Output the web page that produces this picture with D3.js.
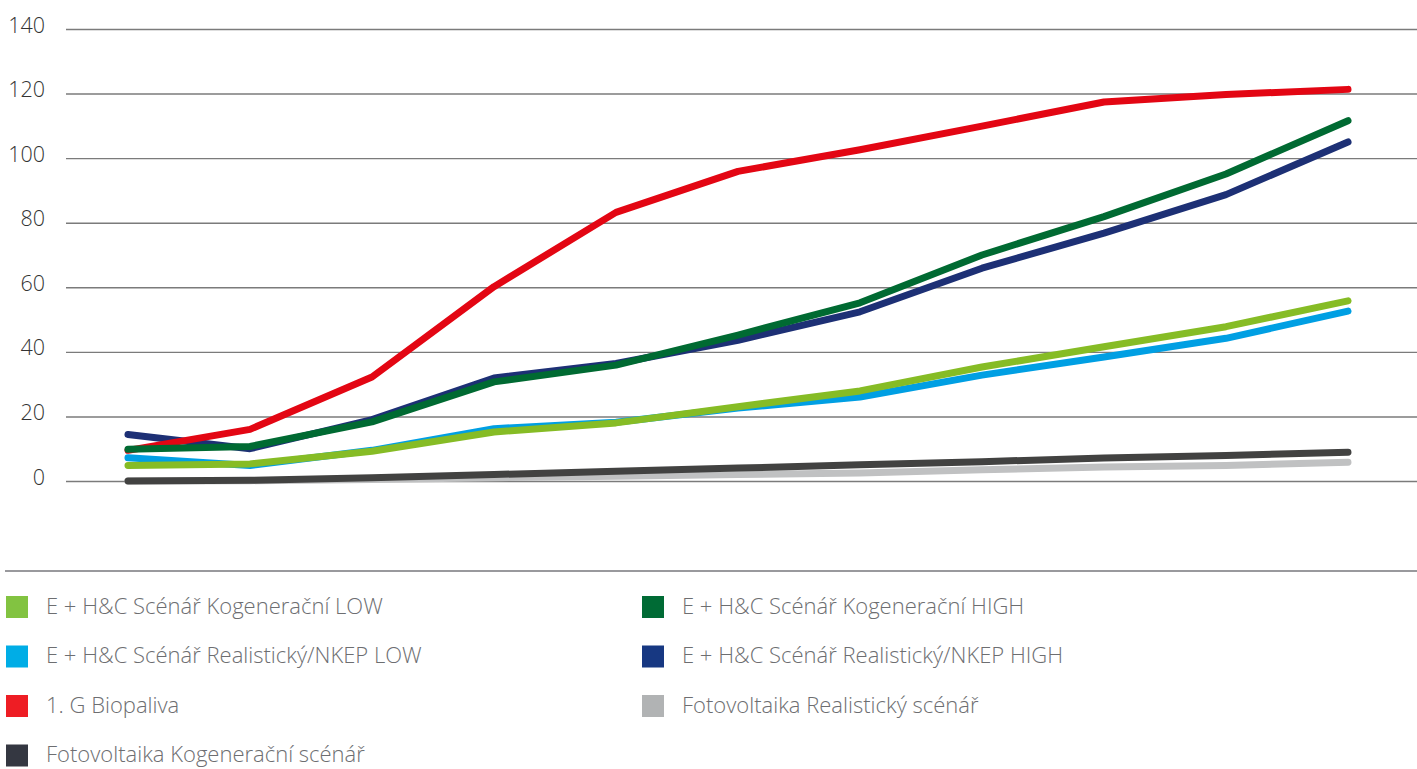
<!DOCTYPE html>
<html>
<head>
<meta charset="utf-8">
<script src="https://cdn.jsdelivr.net/npm/d3@7"></script>
<style>
  html, body { margin: 0; padding: 0; background: #fff; }
  svg { display: block; font-family: 'Open Sans', sans-serif; }
</style>
</head>
<body>
<div id="viz"></div>
<script>
// category positions along x (no labels drawn in the original)
const periods = ['1', '2', '3', '4', '5', '6', '7', '8', '9', '10', '11'];
const yTicks = [0, 20, 40, 60, 80, 100, 120, 140];

const kogLow = [4.8, 5.3, 9.2, 15.2, 18.0, 23.0, 27.9, 35.3, 41.6, 47.8, 55.8];
const realLow = [7.2, 4.8, 9.5, 16.2, 18.2, 22.6, 26.0, 32.8, 38.4, 44.2, 52.6];
const biopaliva = [9.5, 16.0, 32.2, 60.2, 83.2, 95.9, 102.6, 109.9, 117.4, 119.7, 121.3];
const kogHigh = [9.8, 10.7, 18.3, 30.7, 35.9, 45.2, 55.2, 70.0, 81.9, 95.1, 111.6];
const realHigh = [14.4, 10.0, 19.0, 31.9, 36.4, 43.6, 52.4, 65.9, 76.8, 88.7, 105.0];
const fvReal = [0, 0.1, 0.5, 1.0, 1.5, 2.0, 2.5, 3.5, 4.3, 4.8, 5.8];
const fvKog = [0, 0.2, 1.0, 2.0, 3.0, 4.0, 5.0, 6.0, 7.1, 7.9, 8.9];

const series = [
  { name: 'Fotovoltaika Realistický scénář', values: fvReal, line: '#c0c1c2', swatch: '#b1b3b4' },
  { name: 'Fotovoltaika Kogenerační scénář', values: fvKog, line: '#424241', swatch: '#343741' },
  { name: 'E + H&C Scénář Realistický/NKEP LOW', values: realLow, line: '#009fe3', swatch: '#00ade6' },
  { name: 'E + H&C Scénář Kogenerační LOW', values: kogLow, line: '#86bc25', swatch: '#82c341' },
  { name: 'E + H&C Scénář Realistický/NKEP HIGH', values: realHigh, line: '#1d3075', swatch: '#173882' },
  { name: '1. G Biopaliva', values: biopaliva, line: '#e30613', swatch: '#ee1d24' },
  { name: 'E + H&C Scénář Kogenerační HIGH', values: kogHigh, line: '#006a32', swatch: '#006b35' }
];

// legend order as shown in the reference (two columns)
const legendOrder = [
  'E + H&C Scénář Kogenerační LOW', 'E + H&C Scénář Kogenerační HIGH',
  'E + H&C Scénář Realistický/NKEP LOW', 'E + H&C Scénář Realistický/NKEP HIGH',
  '1. G Biopaliva', 'Fotovoltaika Realistický scénář',
  'Fotovoltaika Kogenerační scénář'
];

const width = 1417;
const height = 769;

const svg = d3.select('#viz')
  .append('svg')
  .attr('width', width)
  .attr('height', height);

const x = d3.scalePoint().domain(periods).range([128, 1348]);
const y = d3.scaleLinear().domain([0, 140]).range([481, 29]);

// grid + tick labels
const grid = svg.append('g')
  .attr('transform', 'translate(66,0)')
  .call(d3.axisRight(y).tickValues(yTicks).tickSize(width - 66).tickFormat(''));
grid.select('.domain').remove();
grid.selectAll('.tick line').attr('stroke', '#7b7b7b').attr('stroke-width', 1.4);

svg.append('g')
  .selectAll('text')
  .data(yTicks)
  .enter()
  .append('text')
  .attr('x', 45)
  .attr('y', d => y(d) - 4)
  .attr('dy', '0.35em')
  .attr('text-anchor', 'end')
  .attr('font-size', 21.5)
  .attr('font-weight', 300)
  .attr('fill', '#333')
  .text(d => d);

// lines
const line = d3.line()
  .x((d, i) => x(periods[i]))
  .y(d => y(d));

svg.append('g')
  .selectAll('path')
  .data(series)
  .enter()
  .append('path')
  .attr('d', d => line(d.values))
  .attr('fill', 'none')
  .attr('stroke', d => d.line)
  .attr('stroke-width', 7)
  .attr('stroke-linecap', 'round')
  .attr('stroke-linejoin', 'round');

// separator above legend
svg.append('line')
  .attr('x1', 5).attr('x2', width)
  .attr('y1', 571).attr('y2', 571)
  .attr('stroke', '#77777d')
  .attr('stroke-width', 1.4);

// legend
const byName = new Map(series.map(s => [s.name, s]));
const legend = svg.append('g')
  .selectAll('g')
  .data(legendOrder)
  .enter()
  .append('g')
  .attr('transform', (d, i) => `translate(${i % 2 ? 642 : 6},${596 + Math.floor(i / 2) * 49.5})`);

legend.append('rect')
  .attr('width', 22)
  .attr('height', 22)
  .attr('fill', d => byName.get(d).swatch);

legend.append('text')
  .attr('x', 40)
  .attr('y', 10)
  .attr('dy', '0.35em')
  .attr('font-size', 22)
  .attr('font-weight', 300)
  .attr('fill', '#6d6e71')
  .text(d => d);
</script>
</body>
</html>
